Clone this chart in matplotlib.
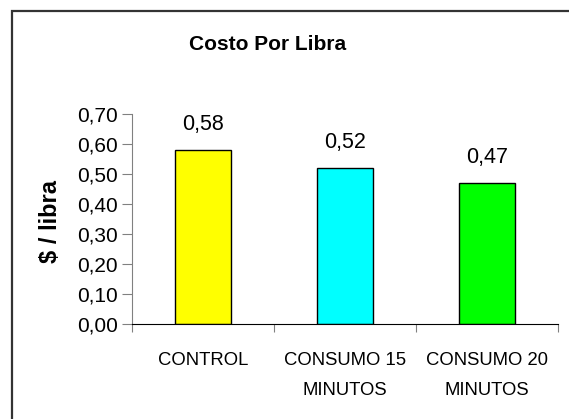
import matplotlib
matplotlib.use("Agg")
import matplotlib.pyplot as plt
from matplotlib.patches import Rectangle

# ——— Data ———
categories = ["CONTROL", "CONSUMO 15\nMINUTOS", "CONSUMO 20\nMINUTOS"]
costs = [0.58, 0.52, 0.47]
value_labels = ["0,58", "0,52", "0,47"]
bar_colors = ["#FFFF00", "#00FFFF", "#00FF00"]
y_ticks = [0.0, 0.1, 0.2, 0.3, 0.4, 0.5, 0.6, 0.7]
y_tick_labels = ["0,00", "0,10", "0,20", "0,30", "0,40", "0,50", "0,60", "0,70"]

plt.rcParams["font.family"] = ["Liberation Sans", "DejaVu Sans"]

W, H = 569, 419
fig = plt.figure(figsize=(W / 100, H / 100), dpi=100)
ax = fig.add_axes([132 / W, 1 - 324 / H, (558 - 132) / W, (324 - 114) / H])

x = range(len(categories))
ax.bar(x, costs, width=0.4, color=bar_colors, edgecolor="black", linewidth=1.0, zorder=2)

# value labels above bars
for xi, v, lab in zip(x, costs, value_labels):
    ax.annotate(lab, (xi, v), xytext=(0, 10.5), textcoords="offset points",
                ha="center", va="bottom", fontsize=15.5)

ax.set_xlim(-0.5, len(categories) - 0.5)
ax.set_ylim(0, 0.7)
ax.set_yticks(y_ticks)
ax.set_yticklabels(y_tick_labels, fontsize=15)

# category labels centred, ticks on category boundaries
ax.set_xticks([i - 0.5 for i in range(len(categories) + 1)])
ax.set_xticklabels([])
ax.set_xticks(list(x), minor=True)
ax.set_xticklabels(categories, minor=True, fontsize=13.3, linespacing=2.05)
ax.tick_params(axis="x", which="minor", length=0, pad=20)
ax.tick_params(axis="x", which="major", length=6, color="#808080", direction="out")
ax.tick_params(axis="y", length=7, color="#808080", direction="out", pad=3)

for s in ["top", "right"]:
    ax.spines[s].set_visible(False)
ax.spines["left"].set_color("#808080")
ax.spines["bottom"].set_color("black")

ax.set_ylabel("$ / libra", fontsize=17, fontweight="bold")
ax.yaxis.set_label_coords(-0.165, 0.49)

fig.text(268 / W, 1 - 45 / H, "Costo Por Libra", ha="center", va="center",
         fontsize=15, fontweight="bold")

# chart-area border (only left and top edges visible in crop)
fig.add_artist(Rectangle((12 / W, -0.2), 1.0, 1.2 - 11 / H, transform=fig.transFigure,
                         fill=False, edgecolor="#333333", linewidth=1.6))

fig.savefig("out.png", dpi=100)
